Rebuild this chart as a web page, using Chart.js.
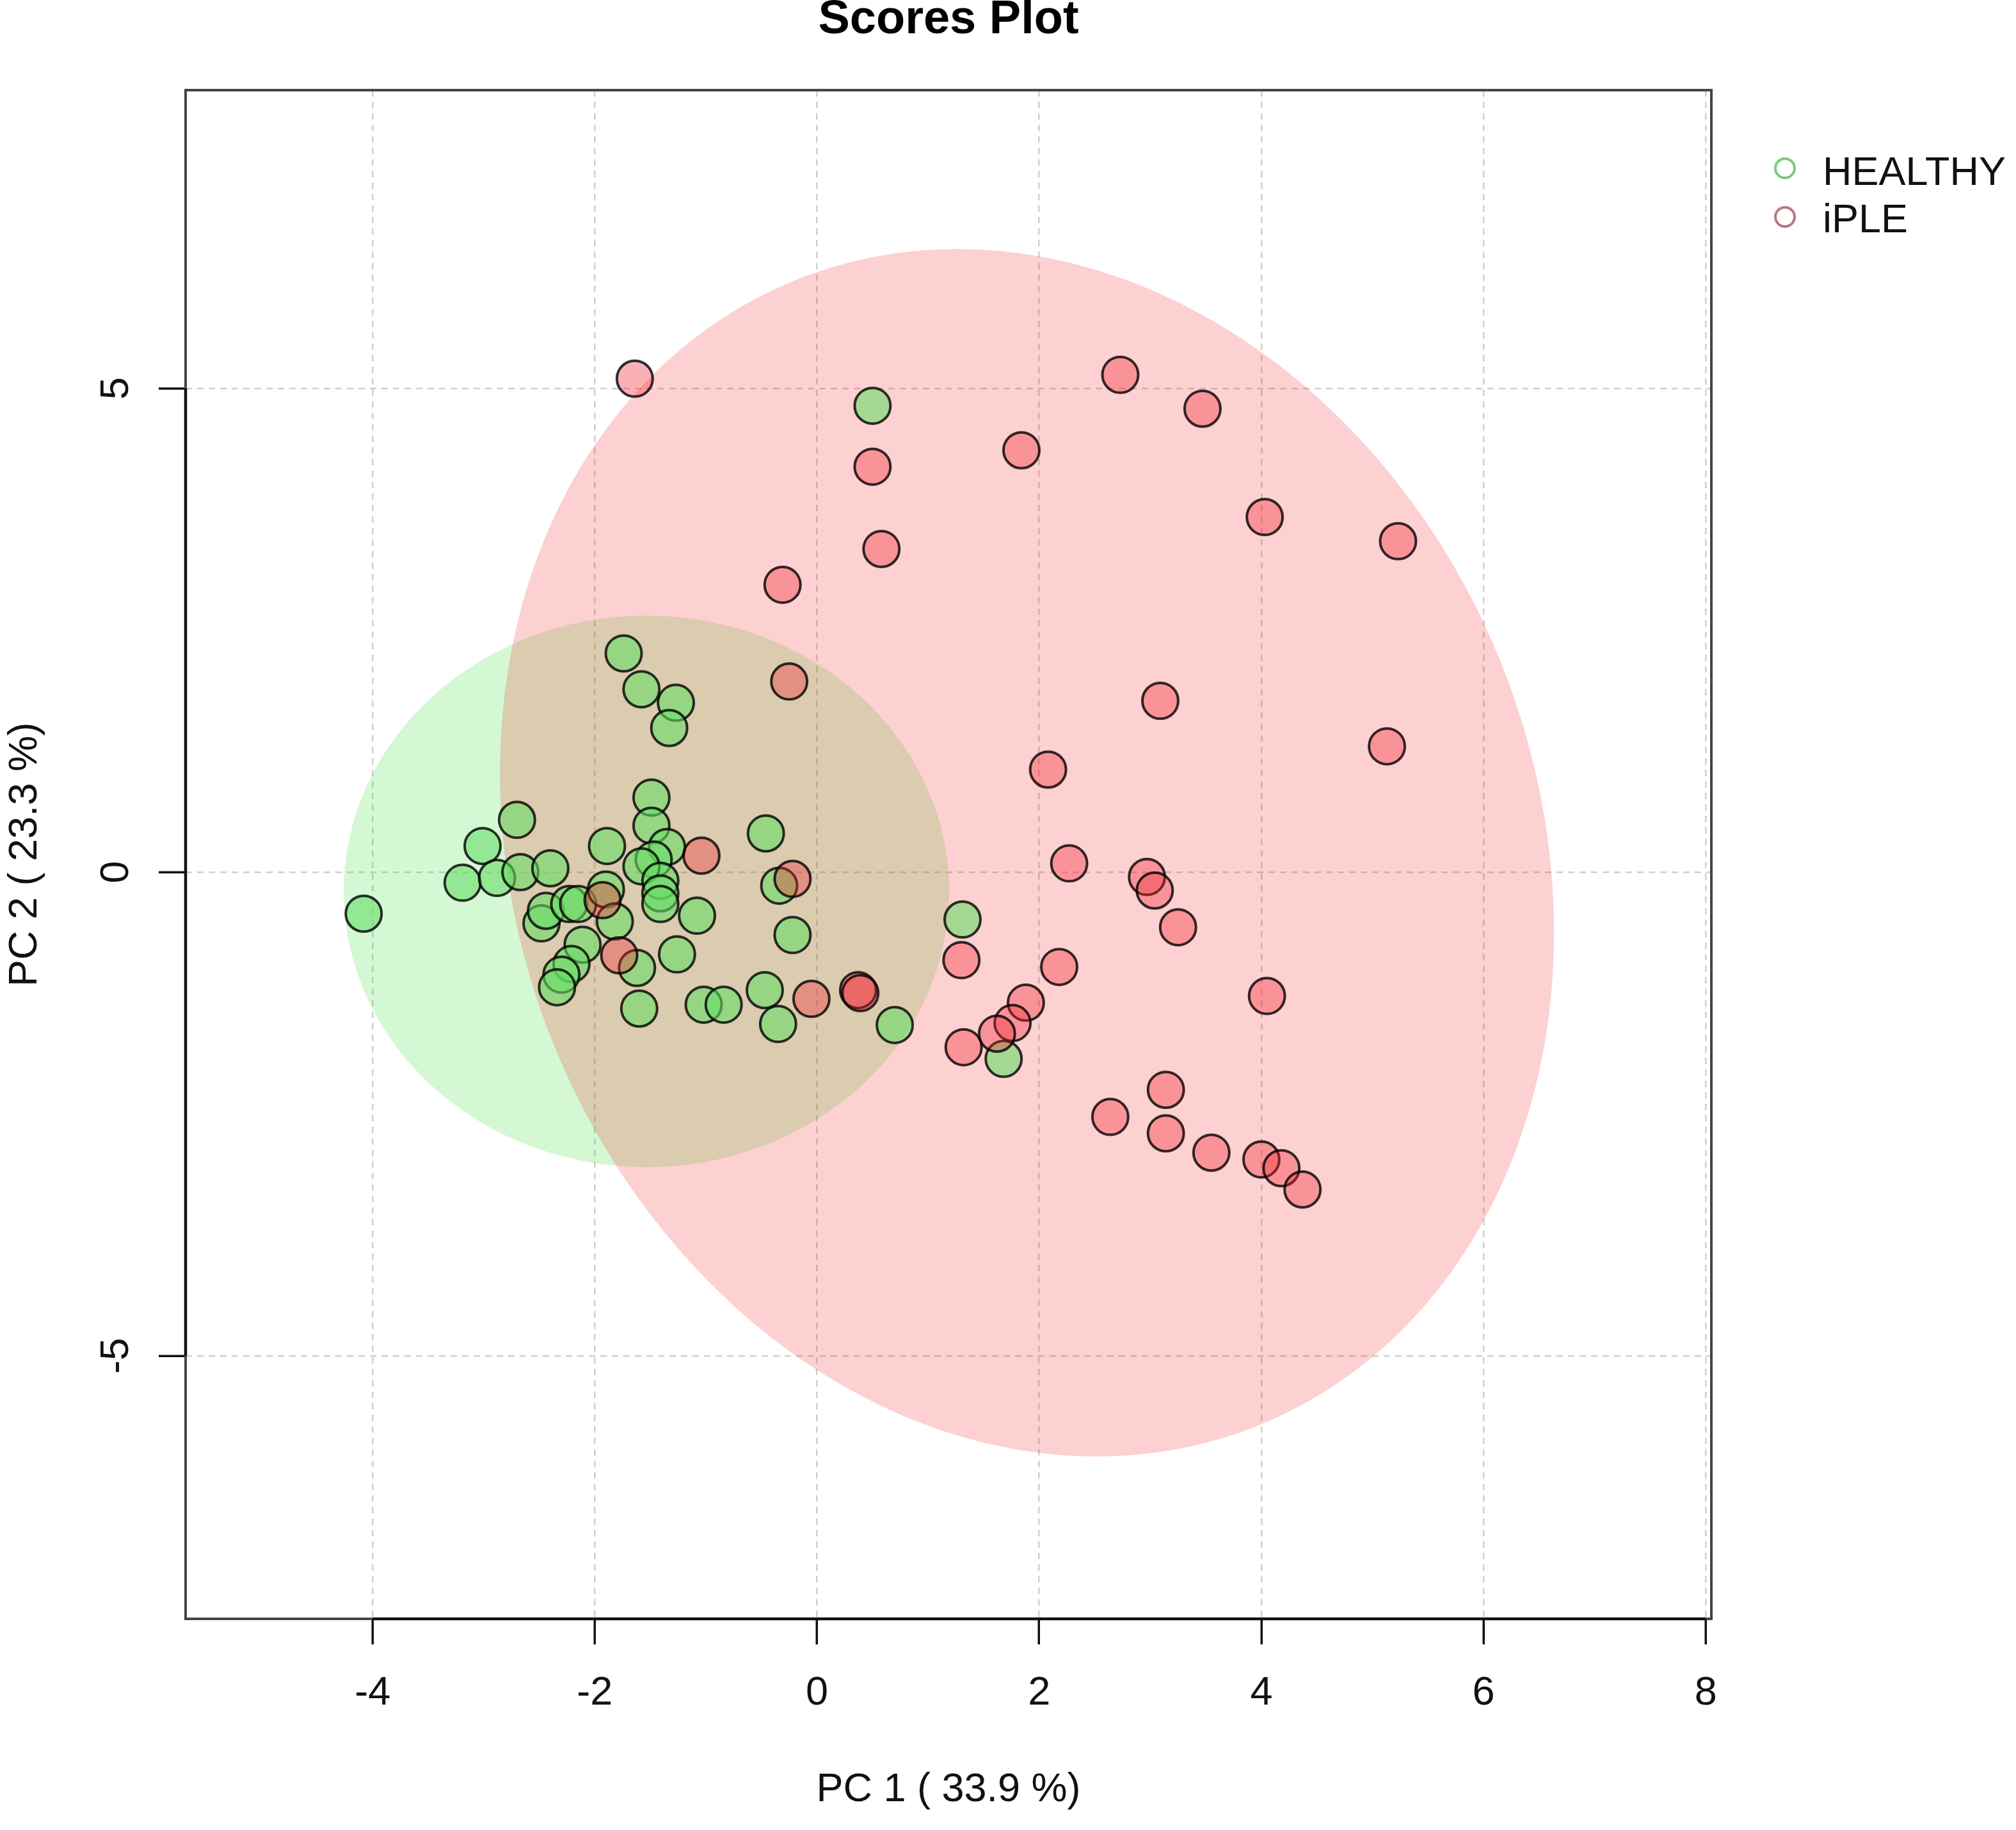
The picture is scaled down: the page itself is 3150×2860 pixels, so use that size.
<!DOCTYPE html>
<html>
<head>
<meta charset="utf-8">
<script src="https://cdn.jsdelivr.net/npm/chart.js@4.4.1/dist/chart.umd.min.js"></script>
<style>
html,body{margin:0;padding:0;background:#ffffff;}
canvas{display:block;}
</style>
</head>
<body>
<canvas id="c" width="3150" height="2860" style="width:3150px;height:2860px"></canvas>
<script>
// ---------------- data ----------------
const groups = ['HEALTHY', 'iPLE'];

const healthyPC1 = [-4.08, -3.19, -3.01, -2.88, -2.70, -2.67, -2.40, -2.48, -2.44, -2.23,
                    -2.15, -1.90, -1.82, -2.11, -2.21, -2.30, -2.34, -1.89, -1.74, -1.58,
                    -1.27, -1.33, -1.49, -1.49, -1.35, -1.47, -1.58, -1.41, -1.41, -1.41,
                    -1.62, -1.60, -1.26, -1.08, -1.02, -0.84, -0.46, -0.34, -0.22, -0.47,
                    -0.35, 0.50, 0.70, 1.31, 1.68];
const healthyPC2 = [-0.43, -0.11, 0.27, -0.06, 0.54, 0.00, 0.04, -0.53, -0.40, -0.33,
                    -0.33, -0.18, -0.51, -0.75, -0.95, -1.06, -1.19, 0.27, 2.26, 1.89,
                    1.75, 1.49, 0.77, 0.48, 0.26, 0.13, 0.06, -0.09, -0.22, -0.33,
                    -0.99, -1.41, -0.85, -0.45, -1.37, -1.37, 0.40, -0.14, -0.65, -1.22,
                    -1.57, 4.82, -1.58, -0.49, -1.93];

const iplePC1 = [-1.64, 2.73, 3.47, 1.84, 0.50, 0.58, 4.03, 5.23, -0.31, -0.25,
                 3.09, 5.13, 2.08, 2.27, 2.97, 3.04, 3.25, 4.05, 2.18, 1.88,
                 1.76, 1.62, 1.32, 1.30, 3.14, 2.64, 3.14, 3.55, 4.00, 4.18,
                 4.37, 0.37, 0.39, -0.05, -0.22, -1.04, -1.78, -1.93];
const iplePC2 = [5.10, 5.14, 4.79, 4.36, 4.19, 3.34, 3.67, 3.42, 2.97, 1.97,
                 1.77, 1.30, 1.06, 0.09, -0.05, -0.19, -0.57, -1.28, -0.98, -1.35,
                 -1.56, -1.67, -1.81, -0.91, -2.25, -2.53, -2.70, -2.90, -2.97, -3.06,
                 -3.28, -1.22, -1.25, -1.31, -0.07, 0.17, -0.86, -0.29];

// 95% confidence regions (data units)
const ellipseCenterX = [-1.535, 1.89];
const ellipseCenterY = [-0.20, 0.20];
const ellipseSemiMajor = [2.85, 6.31];
const ellipseSemiMinor = [2.725, 4.65];
const ellipseAngleDeg = [90, -77.3];

const xTicks = [-4, -2, 0, 2, 4, 6, 8];
const xTickLabels = ['-4', '-2', '0', '2', '4', '6', '8'];
const yTicks = [-5, 0, 5];
const yTickLabels = ['-5', '0', '5'];

const chartTitle = 'Scores Plot';
const xAxisTitle = 'PC 1 ( 33.9 %)';
const yAxisTitle = 'PC 2 ( 23.3 %)';

// ---------------- styles ----------------
const FONT = "'Liberation Sans', Arial, Helvetica, sans-serif";
const pointFill = ['rgba(100,222,100,0.58)', 'rgba(240,40,50,0.36)'];
const pointEdge = 'rgba(0,0,0,0.8)';
const ellipseFill = ['rgba(40,220,40,0.20)', 'rgba(245,20,25,0.20)'];
const legendStroke = ['#7cc87c', '#b8787e'];

function toPoints(xs, ys) { return xs.map((v, i) => ({x: v, y: ys[i]})); }

const ellipsePlugin = {
  id: 'ellipses',
  beforeDatasetsDraw(chart) {
    const {ctx, chartArea: ca, scales} = chart;
    const sx = scales.x.getPixelForValue(1) - scales.x.getPixelForValue(0);
    const sy = scales.y.getPixelForValue(0) - scales.y.getPixelForValue(1);
    ctx.save();
    ctx.beginPath();
    ctx.rect(ca.left, ca.top, ca.right - ca.left, ca.bottom - ca.top);
    ctx.clip();
    groups.forEach((g, i) => {
      ctx.save();
      ctx.translate(scales.x.getPixelForValue(ellipseCenterX[i]), scales.y.getPixelForValue(ellipseCenterY[i]));
      ctx.scale(sx, -sy);
      ctx.rotate(ellipseAngleDeg[i] * Math.PI / 180);
      ctx.beginPath();
      ctx.ellipse(0, 0, ellipseSemiMajor[i], ellipseSemiMinor[i], 0, 0, Math.PI * 2);
      ctx.fillStyle = ellipseFill[i];
      ctx.fill();
      ctx.restore();
    });
    ctx.restore();
  }
};

const framePlugin = {
  id: 'frame',
  afterDraw(chart) {
    const {ctx, chartArea: ca, scales} = chart;
    ctx.save();
    ctx.lineWidth = 4;
    ctx.strokeStyle = '#444444';
    ctx.strokeRect(ca.left, ca.top, ca.right - ca.left, ca.bottom - ca.top);
    ctx.strokeStyle = '#111111';
    ctx.lineWidth = 4.5;
    ctx.beginPath();
    ctx.moveTo(scales.x.getPixelForValue(xTicks[0]), ca.bottom);
    ctx.lineTo(scales.x.getPixelForValue(xTicks[xTicks.length - 1]), ca.bottom);
    ctx.moveTo(ca.left, scales.y.getPixelForValue(yTicks[0]));
    ctx.lineTo(ca.left, scales.y.getPixelForValue(yTicks[yTicks.length - 1]));
    ctx.stroke();

    // legend
    ctx.font = '63px ' + FONT;
    ctx.textAlign = 'left';
    ctx.textBaseline = 'alphabetic';
    groups.forEach((g, i) => {
      ctx.beginPath();
      ctx.lineWidth = 4;
      ctx.strokeStyle = legendStroke[i];
      ctx.arc(2789, 263 + i * 76, 15, 0, Math.PI * 2);
      ctx.stroke();
      ctx.fillStyle = '#111111';
      ctx.fillText(g, 2848, 289 + i * 74);
    });
    ctx.restore();
  }
};

const ctx = document.getElementById('c').getContext('2d');
new Chart(ctx, {
  type: 'scatter',
  data: {
    datasets: [
      {
        label: groups[0],
        data: toPoints(healthyPC1, healthyPC2),
        order: 2,
        pointRadius: 28,
        pointHoverRadius: 28,
        borderWidth: 4,
        pointBackgroundColor: pointFill[0],
        pointBorderColor: pointEdge,
        backgroundColor: pointFill[0],
        borderColor: pointEdge
      },
      {
        label: groups[1],
        data: toPoints(iplePC1, iplePC2),
        order: 1,
        pointRadius: 28,
        pointHoverRadius: 28,
        borderWidth: 4,
        pointBackgroundColor: pointFill[1],
        pointBorderColor: pointEdge,
        backgroundColor: pointFill[1],
        borderColor: pointEdge
      }
    ]
  },
  options: {
    responsive: false,
    devicePixelRatio: 1,
    animation: false,
    events: [],
    layout: {padding: {left: 0, right: 476, top: 0, bottom: 0}},
    plugins: {
      legend: {display: false},
      tooltip: {enabled: false},
      title: {
        display: true,
        text: chartTitle,
        fullSize: false,
        color: '#000000',
        font: {family: FONT, size: 74, weight: 'bold', lineHeight: 0.85},
        padding: {top: 0, bottom: 78}
      }
    },
    scales: {
      x: {
        type: 'linear',
        position: 'bottom',
        min: -5.683,
        max: 8.05,
        bounds: 'data',
        afterBuildTicks: s => { s.ticks = xTicks.map(v => ({value: v})); },
        afterFit: s => { s.height = 330; },
        ticks: {
          autoSkip: false,
          maxRotation: 0,
          minRotation: 0,
          padding: 39,
          color: '#111111',
          font: {family: FONT, size: 63},
          callback: (v, i) => xTickLabels[i]
        },
        grid: {
          color: '#cfcfcf',
          lineWidth: 2.5,
          drawTicks: true,
          tickLength: 40,
          tickColor: '#111111',
          tickWidth: 3.5
        },
        border: {display: false, dash: [10, 8]},
        title: {
          display: true,
          text: xAxisTitle,
          color: '#111111',
          font: {family: FONT, size: 63},
          padding: {top: 0, bottom: 25}
        }
      },
      y: {
        type: 'linear',
        position: 'left',
        min: -7.718,
        max: 8.082,
        bounds: 'data',
        afterBuildTicks: s => { s.ticks = yTicks.map(v => ({value: v})); },
        afterFit: s => { s.width = 290; },
        ticks: {
          autoSkip: false,
          minRotation: 90,
          maxRotation: 90,
          crossAlign: 'center',
          padding: 37,
          color: '#111111',
          font: {family: FONT, size: 63},
          callback: (v, i) => yTickLabels[i]
        },
        grid: {
          color: '#cfcfcf',
          lineWidth: 2.5,
          drawTicks: true,
          tickLength: 42,
          tickColor: '#111111',
          tickWidth: 3.5
        },
        border: {display: false, dash: [10, 8]},
        title: {
          display: true,
          text: yAxisTitle,
          color: '#111111',
          font: {family: FONT, size: 63},
          padding: {top: 2, bottom: 0}
        }
      }
    }
  },
  plugins: [ellipsePlugin, framePlugin]
});
</script>
</body>
</html>
